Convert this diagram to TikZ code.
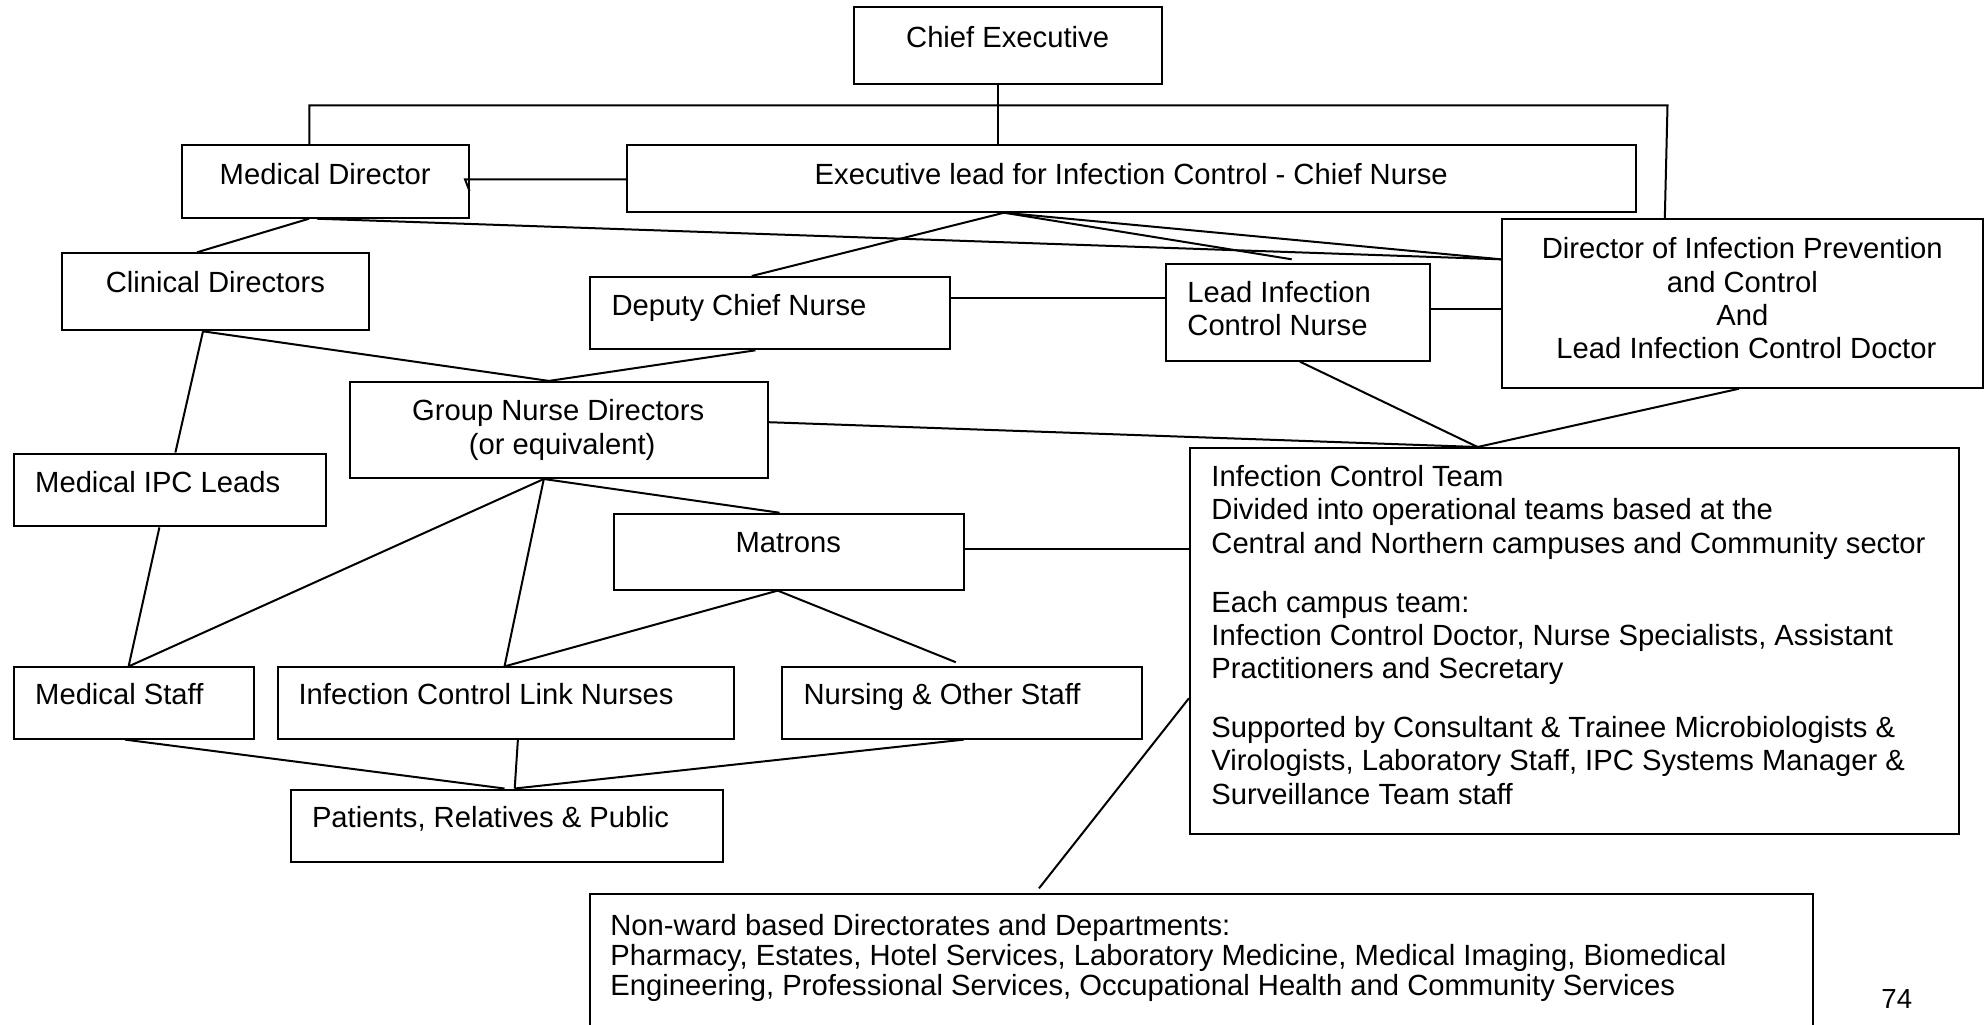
\documentclass[tikz,border=0pt]{standalone}
\usepackage{fontspec}
\setmainfont{Liberation Sans}
\usetikzlibrary{fit}
\newcommand\tstrut{\rule{0pt}{12pt}}
\begin{document}
\begin{tikzpicture}[x=0.5pt,y=-0.5pt,
  box/.style={draw, line width=1pt, inner sep=0pt},
  conn/.style={draw, line width=1pt},
  txt/.style={inner sep=0pt, font=\fontsize{14.6}{16.65}\selectfont, align=left, anchor=north west},
  ctxt/.style={inner sep=0pt, font=\fontsize{14.6}{16.65}\selectfont, align=center, anchor=north}]
\clip (0,0) rectangle (1984,1024);
\fill[white] (0,0) rectangle (1984,1024);
% boxes
\node[box, fit={(853.6,7.3) (1161.6,84.3)}] (ce) {};
\node[box, fit={(181.7,145.3) (468.8,217.7)}] (md) {};
\node[box, fit={(626.8,145.3) (1635.6,211.7)}] (ex) {};
\node[box, fit={(61.6,253.3) (369.2,330.3)}] (cd) {};
\node[box, fit={(589.7,277) (949.6,349.3)}] (dcn) {};
\node[box, fit={(1166,264.3) (1430.4,360.7)}] (lcn) {};
\node[box, fit={(1502,219.3) (1982.5,387.7)}] (dir) {};
\node[box, fit={(349.6,381.9) (767.9,478)}] (gnd) {};
\node[box, fit={(13.8,453.5) (325.9,526.4)}] (mipc) {};
\node[box, fit={(613.6,513.7) (963.8,589.6)}] (mat) {};
\node[box, fit={(13.8,667.4) (254,738.6)}] (ms) {};
\node[box, fit={(277.7,667.4) (733.9,738.6)}] (icln) {};
\node[box, fit={(781.7,667.4) (1142.4,738.6)}] (nos) {};
\node[box, fit={(291,789.5) (723.3,862.1)}] (pat) {};
\node[box, fit={(1189.9,448) (1958.5,834)}] (ict) {};
\node[box, fit={(590,894.3) (1813,1040)}] (nw) {};
% texts
\node[ctxt] (ce-t) at (1007.6,22.7) {\tstrut Chief Executive};
\node[ctxt] (md-t) at (325.2,160.3) {\tstrut Medical Director};
\node[ctxt] (ex-t) at (1131.2,160.3) {\tstrut Executive lead for Infection Control - Chief Nurse};
\node[ctxt] (cd-t) at (215.4,267.7) {\tstrut Clinical Directors};
\node[txt] (dcn-t) at (611.2,291) {\tstrut Deputy Chief Nurse};
\node[txt] (lcn-t) at (1187,277.7) {\tstrut Lead Infection\\Control Nurse};
\node[ctxt] (dir-t) at (1742.3,234.3) {\tstrut Director of Infection Prevention\\and Control\\And\\\hspace*{4.06pt}Lead Infection Control Doctor};
\node[ctxt] (gnd-t) at (558.2,396.5) {\tstrut Group Nurse Directors\\\hspace*{4pt}(or equivalent)};
\node[txt] (mipc-t) at (34.8,468) {\tstrut Medical IPC Leads};
\node[ctxt] (mat-t) at (788.3,527.7) {\tstrut Matrons};
\node[txt] (ms-t) at (34.8,679.9) {\tstrut Medical Staff};
\node[txt] (icln-t) at (298.2,679.9) {\tstrut Infection Control Link Nurses};
\node[txt] (nos-t) at (803.1,679.9) {\tstrut Nursing \& Other Staff};
\node[txt] (pat-t) at (311.6,803.4) {\tstrut Patients, Relatives \& Public};
\node[txt] (ict-t) at (1211,462) {\tstrut Infection Control Team\\
Divided into operational teams based at the\\
Central and Northern campuses and Community sector\\[12.85pt]
Each campus team:\\
Infection Control Doctor, Nurse Specialists, Assistant\\
Practitioners and Secretary\\[12.85pt]
Supported by Consultant \& Trainee Microbiologists \&\\
Virologists, Laboratory Staff, IPC Systems Manager \&\\
Surveillance Team staff};
\node[txt, font=\fontsize{14.6}{14.9}\selectfont] (nw-t) at (610,911) {\tstrut Non-ward based Directorates and Departments:\\
Pharmacy, Estates, Hotel Services, Laboratory Medicine, Medical Imaging, Biomedical\\
Engineering, Professional Services, Occupational Health and Community Services};
\node[anchor=base west, inner sep=0pt, font=\fontsize{13.8}{16}\selectfont] (pg) at (1881,1008.3) {74};
% free ends and corners
\coordinate (tl) at (309.4,105.3);
\coordinate (tr) at (1667.5,105.3);
\coordinate (mdtip) at (465,179.3);
\coordinate (mdtick) at (469.5,191);
\coordinate (lcnend) at (1291.7,259.3);
\coordinate (nosend) at (955.8,662.2);
\coordinate (nwend) at (1039,888.3);
% connectors
\draw[conn] (ce.south -| 997.8,0) -- (ex.north -| 997.8,0);
\draw[conn] (md.north -| 309.4,0) -- (tl) -- (tr) -- (dir.north -| 1664.8,0);
\draw[conn] (ex.west |- 0,179.3) -- (mdtip) -- (mdtick);
\draw[conn] (md.south -| 317,0) -- (dir.west |- 0,259.3);
\draw[conn] (md.south -| 309,0) -- (cd.north -| 197,0);
\draw[conn] (ex.south -| 1004,0) -- (dcn.north -| 751.8,0);
\draw[conn] (ex.south -| 1004,0) -- (lcnend);
\draw[conn] (ex.south -| 1004,0) -- (dir.west |- 0,259.3);
\draw[conn] (dcn.east |- 0,297.7) -- (lcn.west |- 0,297.7);
\draw[conn] (lcn.east |- 0,309.3) -- (dir.west |- 0,309.3);
\draw[conn] (lcn.south -| 1300,0) -- (ict.north -| 1477.6,0);
\draw[conn] (dir.south -| 1739,0) -- (ict.north -| 1477.6,0);
\draw[conn] (gnd.east |- 0,422.2) -- (ict.north -| 1477.6,0);
\draw[conn] (cd.south -| 203,0) -- (gnd.north -| 549,0);
\draw[conn] (dcn.south -| 755.4,0) -- (gnd.north -| 549,0);
\draw[conn] (cd.south -| 203,0) -- (mipc.north -| 175.4,0);
\draw[conn] (mipc.south -| 159.4,0) -- (ms.north -| 128.6,0);
\draw[conn] (gnd.south -| 543.8,0) -- (ms.north -| 128.6,0);
\draw[conn] (gnd.south -| 543.8,0) -- (icln.north -| 504.5,0);
\draw[conn] (gnd.south -| 543.8,0) -- (mat.north -| 779.5,0);
\draw[conn] (mat.east |- 0,548.5) -- (ict.west |- 0,548.5);
\draw[conn] (mat.south -| 777.7,0) -- (icln.north -| 504.5,0);
\draw[conn] (mat.south -| 777.7,0) -- (nosend);
\draw[conn] (ms.south -| 125,0) -- (pat.north -| 504.5,0);
\draw[conn] (icln.south -| 517.9,0) -- (pat.north -| 514.7,0);
\draw[conn] (nos.south -| 963.8,0) -- (pat.north -| 514.7,0);
\draw[conn] (ict.west |- 0,698.3) -- (nwend);
\end{tikzpicture}
\end{document}
